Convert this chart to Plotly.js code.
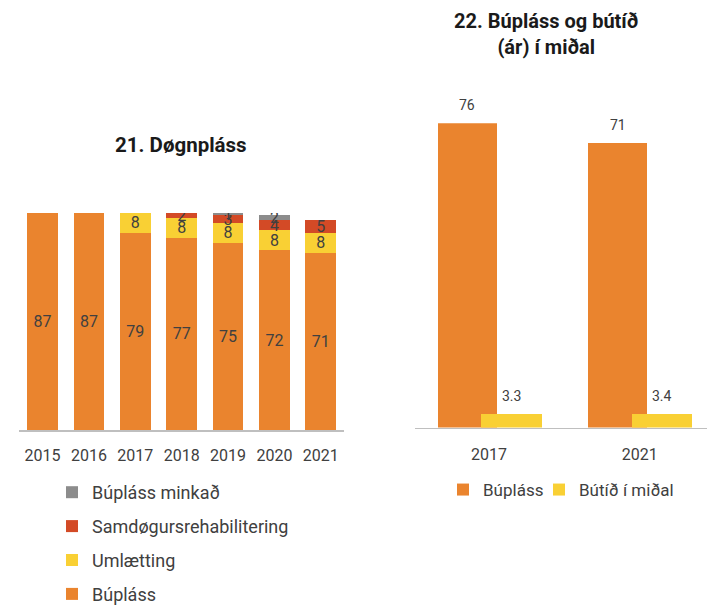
<!DOCTYPE html>
<html>
<head>
<meta charset="utf-8">
<script src="https://cdn.plot.ly/plotly-3.0.1.min.js"></script>
<style>html,body{margin:0;padding:0;background:#fff;}#chart{width:707px;height:607px;}</style>
</head>
<body>
<div id="chart"></div>
<script>
// ---- Data: 21. Døgnpláss ----
const years = ['2015', '2016', '2017', '2018', '2019', '2020', '2021'];
const buplass = [87, 87, 79, 77, 75, 72, 71];
const umlaetting = [null, null, 8, 8, 8, 8, 8];
const samdogur = [null, null, null, 2, 3, 4, 5];
const minkad = [null, null, null, null, 1, 2, null];

// ---- Data: 22. Búpláss og bútíð (ár) í miðal ----
const years2 = ['2017', '2021'];
const buplass2 = [76, 71];
const butid = [3.3, 3.4];

const FONT = 'Roboto, "Open Sans", sans-serif';
const TXT = '#404040';
const C_ORANGE = '#EA842E';
const C_YELLOW = '#F9D034';
const C_RED = '#D34A26';
const C_GRAY = '#8C8C8C';

const lbl = arr => arr.map(v => (v == null ? '' : String(v)));

function stackTrace(name, vals, color, rank) {
  return {
    type: 'bar', name: name, x: years, y: vals,
    marker: {color: color},
    text: lbl(vals), textposition: 'inside', constraintext: 'none', textangle: 0,
    insidetextanchor: 'middle',
    insidetextfont: {family: FONT, size: 16, color: TXT},
    xaxis: 'x', yaxis: 'y', legend: 'legend', legendgroup: 'g' + rank, legendrank: rank,
    hoverinfo: 'x+y+name'
  };
}

const OFF_A = -0.34, W_A = 0.39;
const OFF_B = -0.053, W_B = 0.403;

const traces = [
  stackTrace('Búpláss', buplass, C_ORANGE, 4),
  stackTrace('Umlætting', umlaetting, C_YELLOW, 3),
  stackTrace('Samdøgursrehabilitering', samdogur, C_RED, 2),
  stackTrace('Búpláss minkað', minkad, C_GRAY, 1),
  {
    type: 'bar', name: 'Búpláss', x: years2, y: buplass2,
    marker: {color: C_ORANGE}, offset: OFF_A, width: W_A,
    xaxis: 'x2', yaxis: 'y2', legend: 'legend2'
  },
  {
    type: 'bar', name: 'Bútíð í miðal', x: years2, y: butid,
    marker: {color: C_YELLOW}, offset: OFF_B, width: W_B,
    xaxis: 'x3', yaxis: 'y3', legend: 'legend3'
  }
];

const annotations = [];
buplass2.forEach((v, i) => annotations.push({
  xref: 'x2', yref: 'y2', x: i + OFF_A + W_A / 2, y: v, text: String(v),
  showarrow: false, yanchor: 'bottom', yshift: 8,
  font: {family: FONT, size: 14, color: TXT}
}));
butid.forEach((v, i) => annotations.push({
  xref: 'x3', yref: 'y3', x: i + OFF_B + W_B / 2, y: v, text: String(v),
  showarrow: false, yanchor: 'bottom', yshift: 8,
  font: {family: FONT, size: 14, color: TXT}
}));
annotations.push({
  xref: 'paper', yref: 'paper', x: 181 / 707, y: 1 - 145 / 607,
  xanchor: 'center', yanchor: 'middle', showarrow: false,
  text: '<b>21. Døgnpláss</b>', font: {family: FONT, size: 20.5, color: '#1a1a1a'}
});
annotations.push({
  xref: 'paper', yref: 'paper', x: 546 / 707, y: 1 - 34 / 607,
  xanchor: 'center', yanchor: 'middle', showarrow: false,
  text: '<b>22. Búpláss og bútíð<br>(ár) í miðal</b>',
  font: {family: FONT, size: 20, color: '#1a1a1a'}
});

const axLine = {showline: true, linecolor: '#BFBFBF', linewidth: 1.5, ticks: '', showgrid: false, zeroline: false,
  tickfont: {family: FONT, size: 16, color: TXT}, fixedrange: true, automargin: false};

const smallLegend = (xLeft) => ({
  x: xLeft / 707, xanchor: 'left', y: 1 - 472 / 607, yanchor: 'top',
  orientation: 'h', font: {family: FONT, size: 17, color: TXT}, bgcolor: 'rgba(0,0,0,0)'
});

const layout = {
  width: 707, height: 607,
  margin: {l: 0, r: 0, t: 0, b: 0, pad: 0, autoexpand: false},
  paper_bgcolor: '#fff', plot_bgcolor: '#fff',
  barmode: 'stack', bargap: 0.335,
  showlegend: true,
  font: {family: FONT, color: TXT},
  xaxis: Object.assign({}, axLine, {domain: [19.4 / 707, 344 / 707], type: 'category', range: [-0.5, 6.5], anchor: 'y', ticklabelstandoff: 10}),
  yaxis: {domain: [1 - 430 / 607, 1 - 213 / 607], range: [0, 87], visible: false, fixedrange: true, anchor: 'x'},
  xaxis2: Object.assign({}, axLine, {domain: [415 / 707, 1], type: 'category', range: [-0.491, 1.447], anchor: 'y2', ticklabelstandoff: 12}),
  yaxis2: {domain: [1 - 427.5 / 607, 1 - 123.3 / 607], range: [0, 76], visible: false, fixedrange: true, anchor: 'x2'},
  xaxis3: {overlaying: 'x2', type: 'category', range: [-0.491, 1.447], visible: false, anchor: 'y3', categoryarray: years2, categoryorder: 'array'},
  yaxis3: {overlaying: 'y2', range: [0, 76], visible: false, anchor: 'x3'},
  legend: {
    x: 52 / 707, xanchor: 'left', y: 1 - 474 / 607, yanchor: 'top',
    orientation: 'v', traceorder: 'grouped', tracegroupgap: 7.5,
    font: {family: FONT, size: 18, color: TXT}, bgcolor: 'rgba(0,0,0,0)'
  },
  legend2: smallLegend(443),
  legend3: smallLegend(539),
  annotations: annotations
};

Plotly.newPlot('chart', traces, layout, {displayModeBar: false, staticPlot: true});
</script>
</body>
</html>
